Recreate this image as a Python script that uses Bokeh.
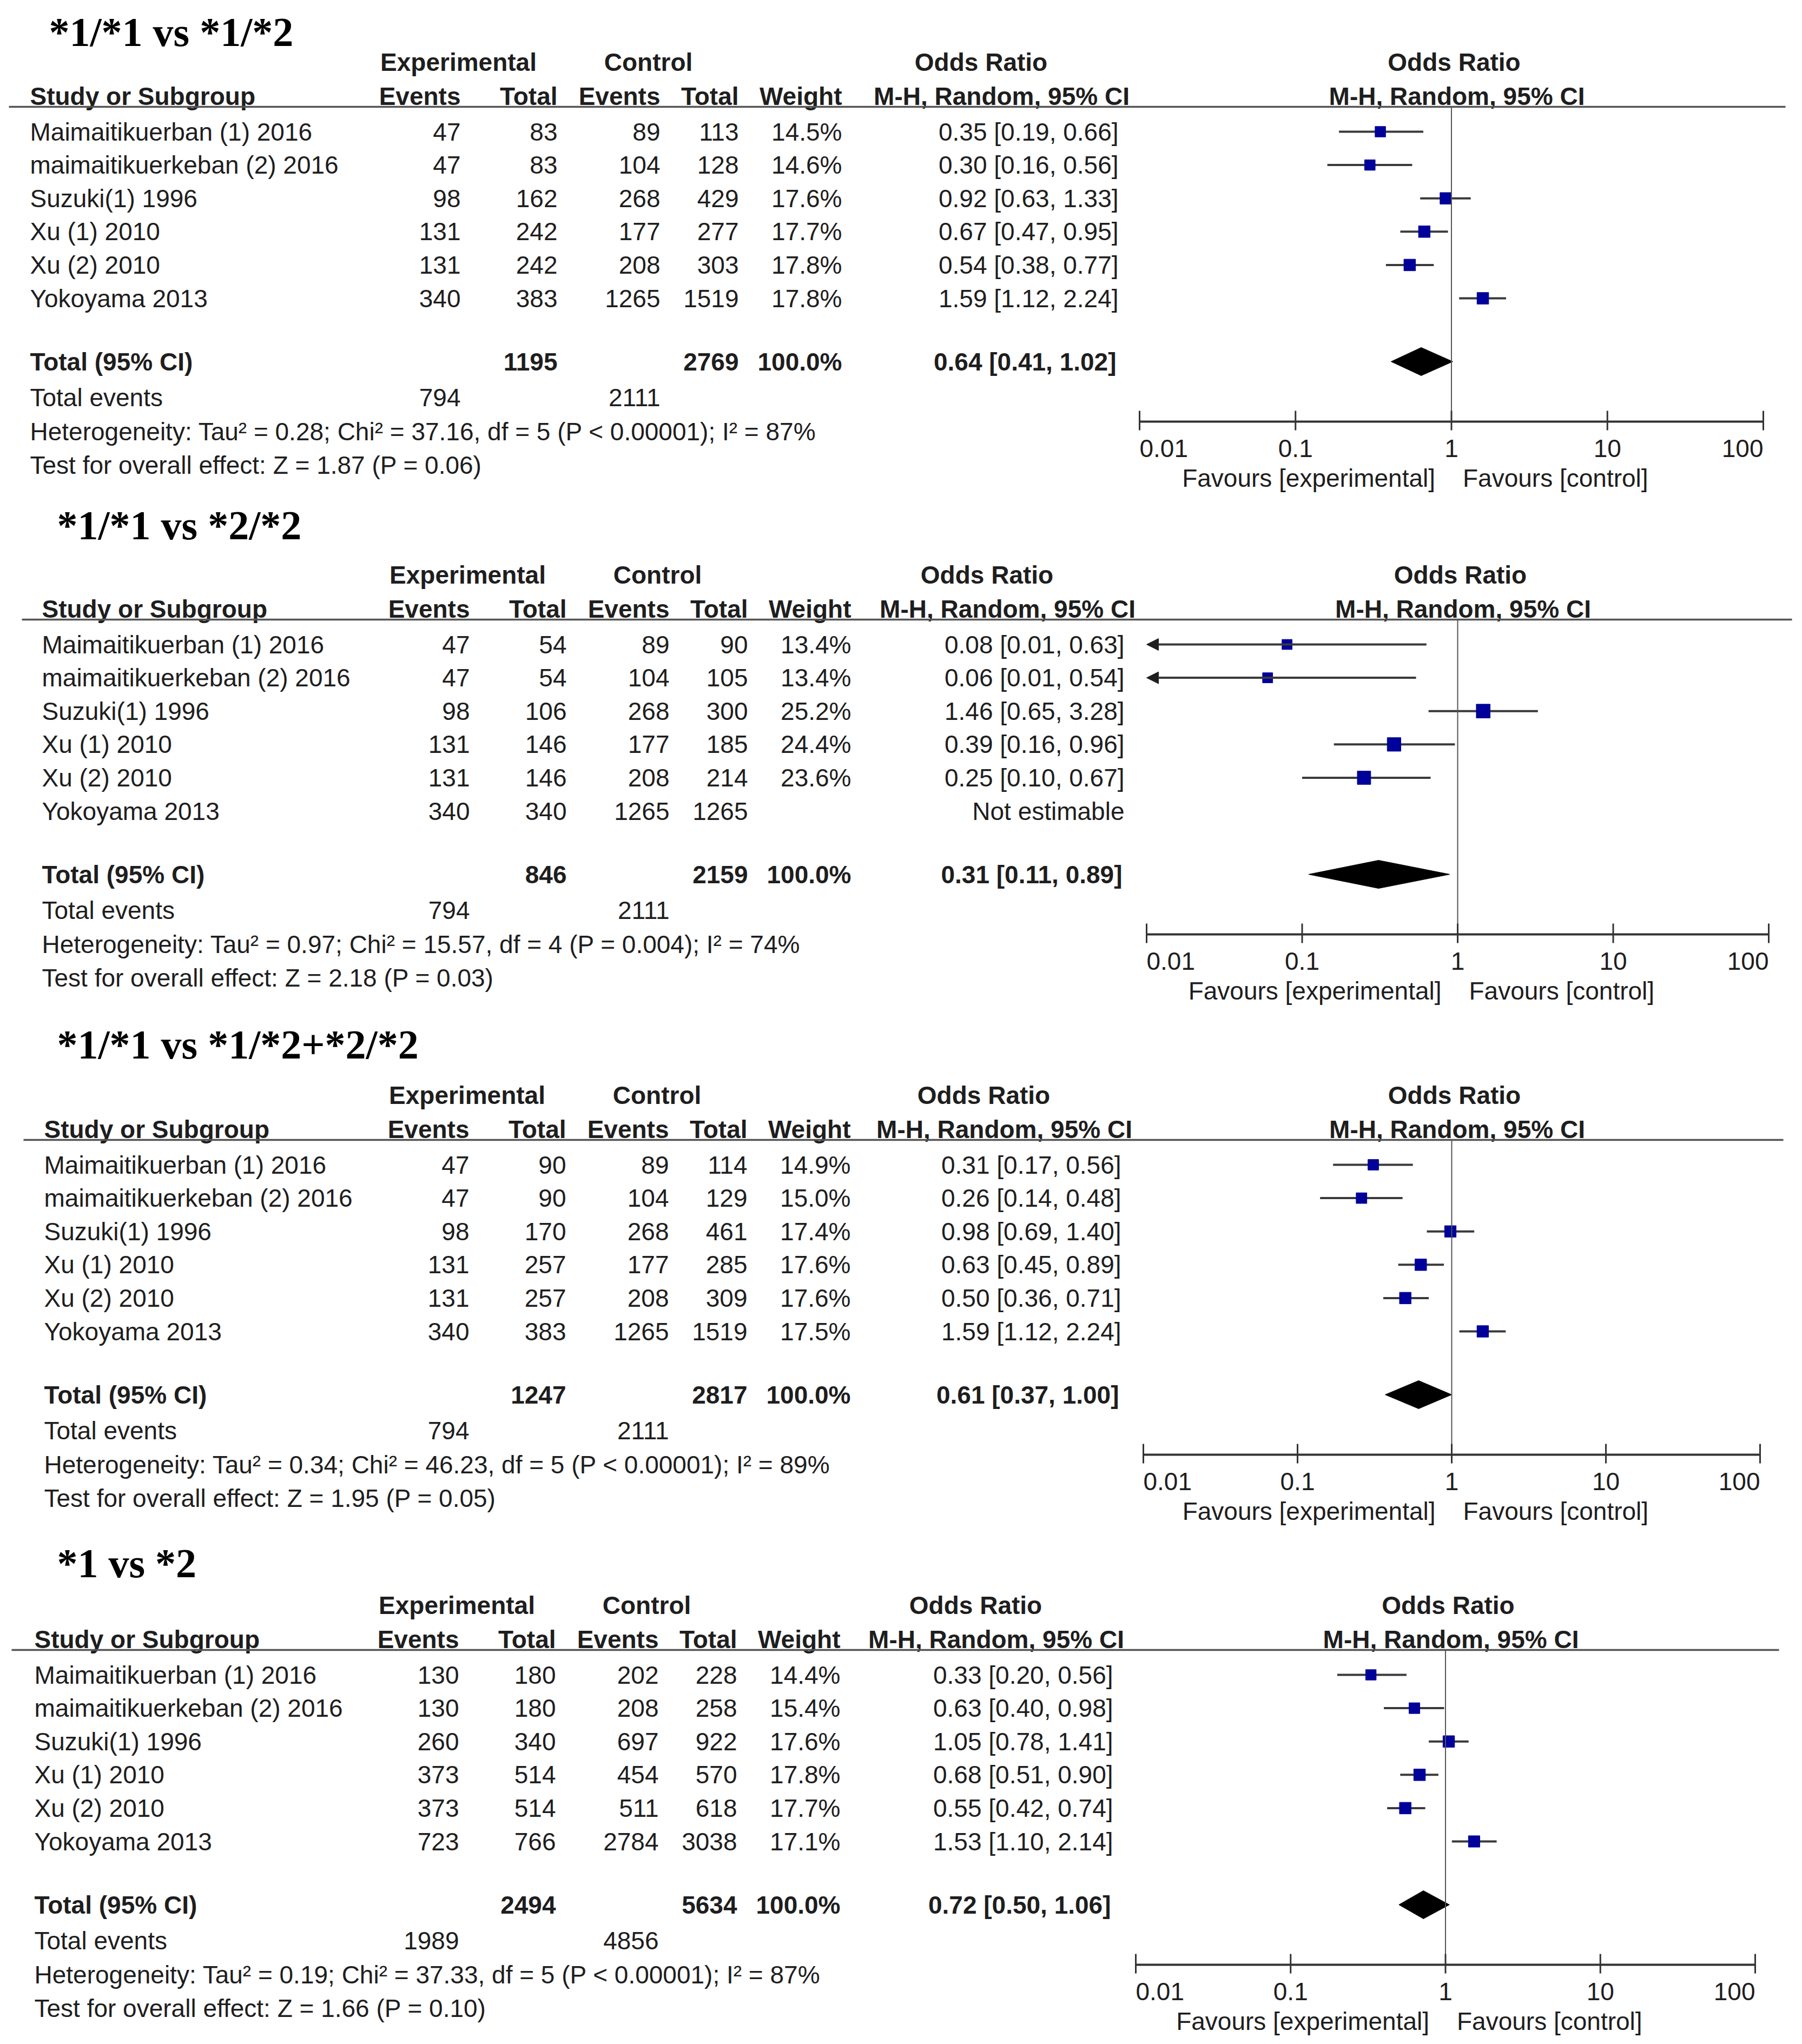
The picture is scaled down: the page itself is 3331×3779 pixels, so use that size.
import math
from bokeh.plotting import figure
from bokeh.models import Range1d, LogScale, ColumnDataSource, Arrow, NormalHead
from bokeh.core.properties import value
from bokeh.embed import file_html
from bokeh.resources import INLINE

# ---------------- data ----------------
titles = ["*1/*1 vs *1/*2", "*1/*1 vs *2/*2", "*1/*1 vs *1/*2+*2/*2", "*1 vs *2"]
studies = ["Maimaitikuerban (1) 2016", "maimaitikuerkeban (2) 2016", "Suzuki(1) 1996",
           "Xu (1) 2010", "Xu (2) 2010", "Yokoyama 2013"]
tick_values = [0.01, 0.1, 1, 10, 100]
tick_labels = ["0.01", "0.1", "1", "10", "100"]

# panel 1: *1/*1 vs *1/*2
exp_events_1 = [47, 47, 98, 131, 131, 340]
exp_total_1 = [83, 83, 162, 242, 242, 383]
ctl_events_1 = [89, 104, 268, 177, 208, 1265]
ctl_total_1 = [113, 128, 429, 277, 303, 1519]
weight_1 = [14.5, 14.6, 17.6, 17.7, 17.8, 17.8]
or_1 = [0.35, 0.30, 0.92, 0.67, 0.54, 1.59]
lo_1 = [0.19, 0.16, 0.63, 0.47, 0.38, 1.12]
hi_1 = [0.66, 0.56, 1.33, 0.95, 0.77, 2.24]
pooled_1 = [0.64, 0.41, 1.02]
sums_1 = [1195, 2769, 794, 2111]
het_1 = "Heterogeneity: Tau² = 0.28; Chi² = 37.16, df = 5 (P < 0.00001); I² = 87%"
test_1 = "Test for overall effect: Z = 1.87 (P = 0.06)"

# panel 2: *1/*1 vs *2/*2
exp_events_2 = [47, 47, 98, 131, 131, 340]
exp_total_2 = [54, 54, 106, 146, 146, 340]
ctl_events_2 = [89, 104, 268, 177, 208, 1265]
ctl_total_2 = [90, 105, 300, 185, 214, 1265]
weight_2 = [13.4, 13.4, 25.2, 24.4, 23.6, None]
or_2 = [0.08, 0.06, 1.46, 0.39, 0.25, None]
lo_2 = [0.01, 0.01, 0.65, 0.16, 0.10, None]
hi_2 = [0.63, 0.54, 3.28, 0.96, 0.67, None]
pooled_2 = [0.31, 0.11, 0.89]
sums_2 = [846, 2159, 794, 2111]
het_2 = "Heterogeneity: Tau² = 0.97; Chi² = 15.57, df = 4 (P = 0.004); I² = 74%"
test_2 = "Test for overall effect: Z = 2.18 (P = 0.03)"

# panel 3: *1/*1 vs *1/*2+*2/*2
exp_events_3 = [47, 47, 98, 131, 131, 340]
exp_total_3 = [90, 90, 170, 257, 257, 383]
ctl_events_3 = [89, 104, 268, 177, 208, 1265]
ctl_total_3 = [114, 129, 461, 285, 309, 1519]
weight_3 = [14.9, 15.0, 17.4, 17.6, 17.6, 17.5]
or_3 = [0.31, 0.26, 0.98, 0.63, 0.50, 1.59]
lo_3 = [0.17, 0.14, 0.69, 0.45, 0.36, 1.12]
hi_3 = [0.56, 0.48, 1.40, 0.89, 0.71, 2.24]
pooled_3 = [0.61, 0.37, 1.00]
sums_3 = [1247, 2817, 794, 2111]
het_3 = "Heterogeneity: Tau² = 0.34; Chi² = 46.23, df = 5 (P < 0.00001); I² = 89%"
test_3 = "Test for overall effect: Z = 1.95 (P = 0.05)"

# panel 4: *1 vs *2
exp_events_4 = [130, 130, 260, 373, 373, 723]
exp_total_4 = [180, 180, 340, 514, 514, 766]
ctl_events_4 = [202, 208, 697, 454, 511, 2784]
ctl_total_4 = [228, 258, 922, 570, 618, 3038]
weight_4 = [14.4, 15.4, 17.6, 17.8, 17.7, 17.1]
or_4 = [0.33, 0.63, 1.05, 0.68, 0.55, 1.53]
lo_4 = [0.20, 0.40, 0.78, 0.51, 0.42, 1.10]
hi_4 = [0.56, 0.98, 1.41, 0.90, 0.74, 2.14]
pooled_4 = [0.72, 0.50, 1.06]
sums_4 = [2494, 5634, 1989, 4856]
het_4 = "Heterogeneity: Tau² = 0.19; Chi² = 37.33, df = 5 (P < 0.00001); I² = 87%"
test_4 = "Test for overall effect: Z = 1.66 (P = 0.10)"

panels = [
    dict(ee=exp_events_1, et=exp_total_1, ce=ctl_events_1, ct=ctl_total_1, w=weight_1,
         orr=or_1, lo=lo_1, hi=hi_1, pooled=pooled_1, sums=sums_1, het=het_1, test=test_1),
    dict(ee=exp_events_2, et=exp_total_2, ce=ctl_events_2, ct=ctl_total_2, w=weight_2,
         orr=or_2, lo=lo_2, hi=hi_2, pooled=pooled_2, sums=sums_2, het=het_2, test=test_2),
    dict(ee=exp_events_3, et=exp_total_3, ce=ctl_events_3, ct=ctl_total_3, w=weight_3,
         orr=or_3, lo=lo_3, hi=hi_3, pooled=pooled_3, sums=sums_3, het=het_3, test=test_3),
    dict(ee=exp_events_4, et=exp_total_4, ce=ctl_events_4, ct=ctl_total_4, w=weight_4,
         orr=or_4, lo=lo_4, hi=hi_4, pooled=pooled_4, sums=sums_4, het=het_4, test=test_4),
]

# ---------------- layout (picture pixel positions) ----------------
W, H = 3315, 3763
X0, X1 = 0, W
Y0, Y1 = 0, H
PANEL_DY = [0, 948, 1910, 2853]
TITLE_Y = [58, 970, 1930, 2889]
TITLE_X = [90, 105, 105, 105]
STUDY_X = [55, 77, 81, 63]
COL_DX = [0, 17, 16, -3]
CI_DX = [0, 11, 5, -10]
AX_A = [2106, 2119, 2113, 2099]   # x of 0.01
AX_B = [3259, 3269, 3253, 3244]   # x of 100
RULE_X0 = [16, 40, 43, 21]
RULE_X1 = [3300, 3312, 3296, 3288]
COL_EXP_EV, COL_EXP_TOT, COL_CTL_EV, COL_CTL_TOT, COL_W, COL_CI = 851, 1030, 1220, 1365, 1556, 2067
HDR_EXP, HDR_CTL, HDR_OR, HDR_MH = 847, 1198, 1813, 1851
ROW0, ROW_STEP = 243, 61.6
Y_HDR1, Y_HDR2, Y_RULE = 114, 177, 197
Y_TOTAL, Y_EVENTS, Y_HET, Y_TEST = 668, 734, 797, 859
Y_AXIS, Y_TICKLAB, Y_FAV = 779, 828, 883

SANS = "Liberation Sans"
SERIF = "Liberation Serif"
TXT = "#1e1e1e"
FS = 46

p = figure(width=W, height=H, x_range=Range1d(X0, X1), y_range=Range1d(Y1, Y0),
           output_backend="svg", toolbar_location=None, min_border=0,
           x_axis_location=None, y_axis_location=None)
p.grid.visible = False
p.outline_line_color = None
p.background_fill_color = "white"

ranges, scales = {}, {}
for k in range(4):
    a, b = AX_A[k], AX_B[k]
    d = (b - a) / 4.0
    ranges[f"log{k}"] = Range1d(10 ** (-2 - (a - X0) / d), 10 ** (2 + (X1 - b) / d))
    scales[f"log{k}"] = LogScale()
p.extra_x_ranges = ranges
p.extra_x_scales = scales


def txt(xs, ys, texts, align="left", bold=False, size=FS, font=SANS, color=TXT,
        rn="default", x_offset=0):
    src = ColumnDataSource(dict(x=list(xs), y=list(ys), t=list(texts)))
    p.text(x="x", y="y", text="t", source=src, text_align=align, text_baseline="middle",
           text_font=value(font), text_font_size=value(f"{size}px"),
           text_font_style="bold" if bold else "normal", text_color=color,
           x_range_name=rn, x_offset=x_offset)


for k, P in enumerate(panels):
    dy = PANEL_DY[k]
    rn = f"log{k}"
    cdx = COL_DX[k]
    cix = CI_DX[k]
    sx = STUDY_X[k]
    rows = [dy + ROW0 + i * ROW_STEP for i in range(len(studies))]
    c1 = AX_A[k] + (AX_B[k] - AX_A[k]) / 2.0

    # title
    txt([TITLE_X[k]], [TITLE_Y[k]], [titles[k]], bold=True, size=76, font=SERIF, color="#000000")

    # header rows
    txt([HDR_EXP + cdx, HDR_CTL + cdx, HDR_OR + cix, c1 + 5], [dy + Y_HDR1] * 4,
        ["Experimental", "Control", "Odds Ratio", "Odds Ratio"], align="center", bold=True)
    txt([sx], [dy + Y_HDR2], ["Study or Subgroup"], bold=True)
    txt([COL_EXP_EV + cdx, COL_EXP_TOT + cdx, COL_CTL_EV + cdx, COL_CTL_TOT + cdx, COL_W + cdx],
        [dy + Y_HDR2] * 5, ["Events", "Total", "Events", "Total", "Weight"], align="right", bold=True)
    txt([HDR_MH + cix, c1 + 10], [dy + Y_HDR2] * 2, ["M-H, Random, 95% CI"] * 2,
        align="center", bold=True)
    p.segment(x0=[RULE_X0[k]], x1=[RULE_X1[k]], y0=[dy + Y_RULE], y1=[dy + Y_RULE],
              line_color="#555555", line_width=3.5)

    # study rows
    txt([sx] * 6, rows, studies)
    txt([COL_EXP_EV + cdx] * 6, rows, [str(v) for v in P["ee"]], align="right")
    txt([COL_EXP_TOT + cdx] * 6, rows, [str(v) for v in P["et"]], align="right")
    txt([COL_CTL_EV + cdx] * 6, rows, [str(v) for v in P["ce"]], align="right")
    txt([COL_CTL_TOT + cdx] * 6, rows, [str(v) for v in P["ct"]], align="right")
    txt([COL_W + cdx] * 6, rows, ["" if w is None else f"{w:.1f}%" for w in P["w"]], align="right")
    ci_txt = []
    for o, l, h in zip(P["orr"], P["lo"], P["hi"]):
        ci_txt.append("Not estimable" if o is None else f"{o:.2f} [{l:.2f}, {h:.2f}]")
    txt([COL_CI + cix] * 6, rows, ci_txt, align="right")

    # totals
    po, pl, ph = P["pooled"]
    s_et, s_ct, s_ee, s_ce = P["sums"]
    yt = dy + Y_TOTAL
    txt([sx], [yt], ["Total (95% CI)"], bold=True)
    txt([COL_EXP_TOT + cdx, COL_CTL_TOT + cdx, COL_W + cdx, COL_CI + cix - 4], [yt] * 4,
        [str(s_et), str(s_ct), "100.0%", f"{po:.2f} [{pl:.2f}, {ph:.2f}]"], align="right", bold=True)
    ye = dy + Y_EVENTS
    txt([sx], [ye], ["Total events"])
    txt([COL_EXP_EV + cdx, COL_CTL_EV + cdx], [ye] * 2, [str(s_ee), str(s_ce)], align="right")
    txt([sx], [dy + Y_HET], [P["het"]])
    txt([sx], [dy + Y_TEST], [P["test"]])

    # forest: CI lines, arrows, squares
    idx = [i for i, o in enumerate(P["orr"]) if o is not None]
    normal = [i for i in idx if P["lo"][i] > 0.01]
    clipped = [i for i in idx if P["lo"][i] <= 0.01]
    if normal:
        p.segment(x0=[P["lo"][i] for i in normal], x1=[P["hi"][i] for i in normal],
                  y0=[rows[i] for i in normal], y1=[rows[i] for i in normal],
                  line_color="#3a3a3a", line_width=4, x_range_name=rn)
    if clipped:
        asrc = ColumnDataSource(dict(xs=[P["hi"][i] for i in clipped], xe=[0.01] * len(clipped),
                                     y=[rows[i] for i in clipped]))
        p.add_layout(Arrow(end=NormalHead(size=22, fill_color="#1e1e1e", line_color="#1e1e1e"),
                           x_start="xs", y_start="y", x_end="xe", y_end="y", source=asrc,
                           line_color="#3a3a3a", line_width=4, x_range_name=rn))
    p.scatter(x=[P["orr"][i] for i in idx], y=[rows[i] for i in idx],
              size=[5.1 * math.sqrt(P["w"][i]) for i in idx], marker="square",
              fill_color="#00009a", line_color="#00009a", x_range_name=rn)

    # pooled diamond
    p.patch(x=[pl, po, ph, po], y=[yt, yt - 26, yt, yt + 26], fill_color="black",
            line_color="black", x_range_name=rn)

    # line of no effect
    ya = dy + Y_AXIS
    p.segment(x0=[1], x1=[1], y0=[dy + Y_RULE], y1=[ya], line_color="#555555",
              line_width=2, x_range_name=rn)

    # axis
    p.segment(x0=[tick_values[0]], x1=[tick_values[-1]], y0=[ya], y1=[ya],
              line_color="#333333", line_width=4, x_range_name=rn)
    p.segment(x0=tick_values, x1=tick_values, y0=[ya - 20] * 5, y1=[ya + 16] * 5,
              line_color="#333333", line_width=3, x_range_name=rn)
    aligns = ["left", "center", "center", "center", "right"]
    for tv, tl, al in zip(tick_values, tick_labels, aligns):
        txt([tv], [dy + Y_TICKLAB], [tl], align=al, rn=rn)
    txt([1], [dy + Y_FAV], ["Favours [experimental]"], align="right", rn=rn, x_offset=-30)
    txt([1], [dy + Y_FAV], ["Favours [control]"], align="left", rn=rn, x_offset=21)

open("out.html", "w").write(file_html(p, INLINE))
